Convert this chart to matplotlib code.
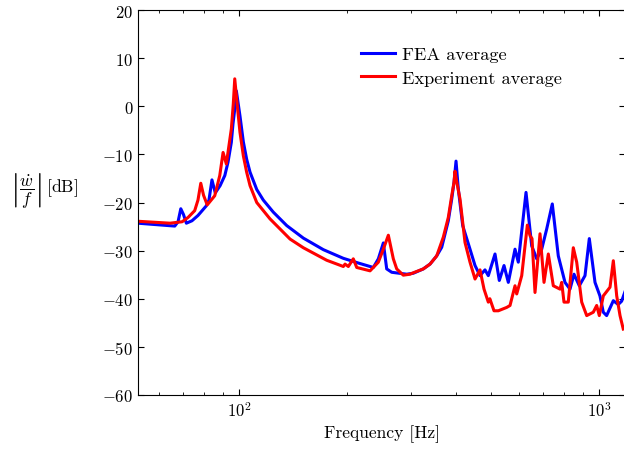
import numpy as np
import matplotlib
matplotlib.use("Agg")
import matplotlib.pyplot as plt

plt.rcParams['font.family'] = 'serif'
plt.rcParams['font.serif'] = ['cmr10']
plt.rcParams['mathtext.fontset'] = 'cm'
plt.rcParams['axes.formatter.use_mathtext'] = True
plt.rcParams['axes.unicode_minus'] = True

# FEA average
fea_freq = [52.4, 56.6, 66.3, 67.7, 68.9, 70.1, 71.4, 74.0, 76.9, 81.1, 82.5, 84.1, 85.9,
            88.6, 91.3, 93.2, 95.2, 96.2, 97.3, 98.3, 100.6, 102.8, 105.0, 107.3, 112.0,
            116.8, 124.5, 135.7, 150.9, 171.5, 194.9, 215.0, 236.1, 243.8, 251.7, 257.2,
            265.6, 292.3, 304.9, 325.0, 339.3, 354.1, 365.7, 381.4, 389.8, 395.6, 400.7,
            406.6, 418.2, 438.2, 452.5, 467.2, 482.3, 492.6, 514.2, 528.5, 544.7, 559.9,
            584.4, 596.8, 627.0, 650.2, 671.4, 693.2, 715.7, 741.8, 770.8, 804.6, 830.7,
            852.3, 881.6, 914.4, 939.9, 974.8, 1006, 1028, 1050, 1096, 1131, 1156, 1180]
fea_db = [-24.3, -24.5, -24.9, -24.0, -21.3, -22.5, -24.3, -23.8, -22.7, -20.7, -19.5, -15.3,
          -18.0, -16.5, -14.4, -11.6, -7.5, -3.7, -0.6, 3.2, -2.0, -7.4, -11.0, -13.7, -17.3,
          -19.5, -22.0, -24.8, -27.4, -29.8, -31.6, -32.6, -33.5, -31.7, -28.4, -33.8,
          -34.5, -34.9, -34.7, -33.8, -32.8, -31.1, -29.3, -23.8, -19.3, -15.8, -11.4,
          -17.2, -24.8, -29.7, -33.1, -35.2, -34.0, -35.2, -30.7, -36.2, -33.1, -36.6,
          -29.7, -32.4, -17.9, -29.0, -31.7, -29.7, -25.5, -20.3, -31.1, -36.6, -38.0,
          -34.9, -37.3, -35.2, -27.5, -36.6, -39.4, -42.8, -43.5, -40.4, -41.2, -40.5,
          -38.6]

# Experiment average
exp_freq = [52.4, 64.3, 69.5, 72.2, 75.3, 76.9, 78.3, 79.7, 81.6, 85.6, 88.4, 90.3, 92.2,
            95.2, 96.4, 97.3, 98.9, 100.6, 102.8, 105.0, 107.3, 112.0, 121.9, 138.6, 150.9,
            175.2, 194.9, 197.0, 201.2, 207.7, 212.3, 231.2, 243.8, 251.7, 259.9, 268.3,
            274.2, 286.0, 298.5, 304.9, 325.0, 339.3, 354.1, 369.4, 381.4, 389.8, 395.6,
            398.1, 402.0, 411.1, 424.4, 438.2, 452.5, 467.2, 479.3, 492.6, 497.5, 510.9,
            525.2, 554.2, 566.0, 584.4, 590.8, 610.0, 632.3, 643.3, 651.5, 664.1, 685.7,
            703.5, 723.1, 746.6, 779.3, 787.8, 799.4, 821.7, 848.5, 867.1, 895.3, 924.4,
            964.2, 985.4, 1002, 1028, 1073, 1096, 1120, 1144, 1168]
exp_db = [-23.9, -24.3, -24.0, -23.1, -21.7, -19.5, -16.0, -18.5, -20.5, -18.6, -14.4, -9.6,
          -12.0, -4.7, 0.5, 5.7, 0.1, -5.4, -10.3, -13.7, -16.5, -20.0, -23.4, -27.6, -29.4,
          -32.0, -33.3, -32.8, -33.3, -31.7, -33.5, -34.2, -32.4, -29.7, -26.8, -31.7,
          -33.8, -35.1, -34.9, -34.6, -33.8, -32.8, -31.1, -27.2, -23.1, -18.6, -15.8,
          -13.5, -15.5, -19.3, -28.3, -32.4, -35.9, -34.0, -38.0, -40.7, -40.0, -42.5,
          -42.5, -41.8, -41.4, -37.3, -39.0, -35.2, -24.7, -26.9, -27.5, -38.7, -26.5,
          -36.6, -30.7, -37.3, -38.0, -36.6, -40.7, -40.7, -29.4, -32.4, -40.7, -43.5,
          -42.8, -41.4, -43.5, -39.4, -37.6, -32.1, -39.4, -43.5, -46.3]

fig = plt.figure(figsize=(6.24, 4.6), dpi=100)
ax = fig.add_axes([138/624, 1 - 396/460, 487/624, 385/460])

ax.semilogx(fea_freq, fea_db, color='#0000ff', lw=2.2, label='FEA average')
ax.semilogx(exp_freq, exp_db, color='#ff0000', lw=2.2, label='Experiment average')

ax.set_xlim(52.4, 1181)
ax.set_ylim(-60, 20)
ax.set_yticks(np.arange(-60, 21, 10))

ax.tick_params(which='both', direction='in', top=True, right=True, labelsize=12)
ax.tick_params(which='major', length=4, width=0.8)
ax.tick_params(which='minor', length=2.5, width=0.6)

ax.set_xlabel('Frequency [Hz]', fontsize=12.6)
ax.set_ylabel(r'$\left|\dfrac{\dot{w}}{f}\right|\,\mathrm{[dB]}$', fontsize=12.6,
              rotation=0, ha='center', va='center')
ax.yaxis.set_label_coords(-0.192, 0.535)

ax.legend(loc='upper left', bbox_to_anchor=(0.458, 0.905), frameon=False, fontsize=13.2,
          borderaxespad=0, borderpad=0, handlelength=1.86, handletextpad=0.38,
          labelspacing=0.4)

fig.savefig('out.png', dpi=100)
